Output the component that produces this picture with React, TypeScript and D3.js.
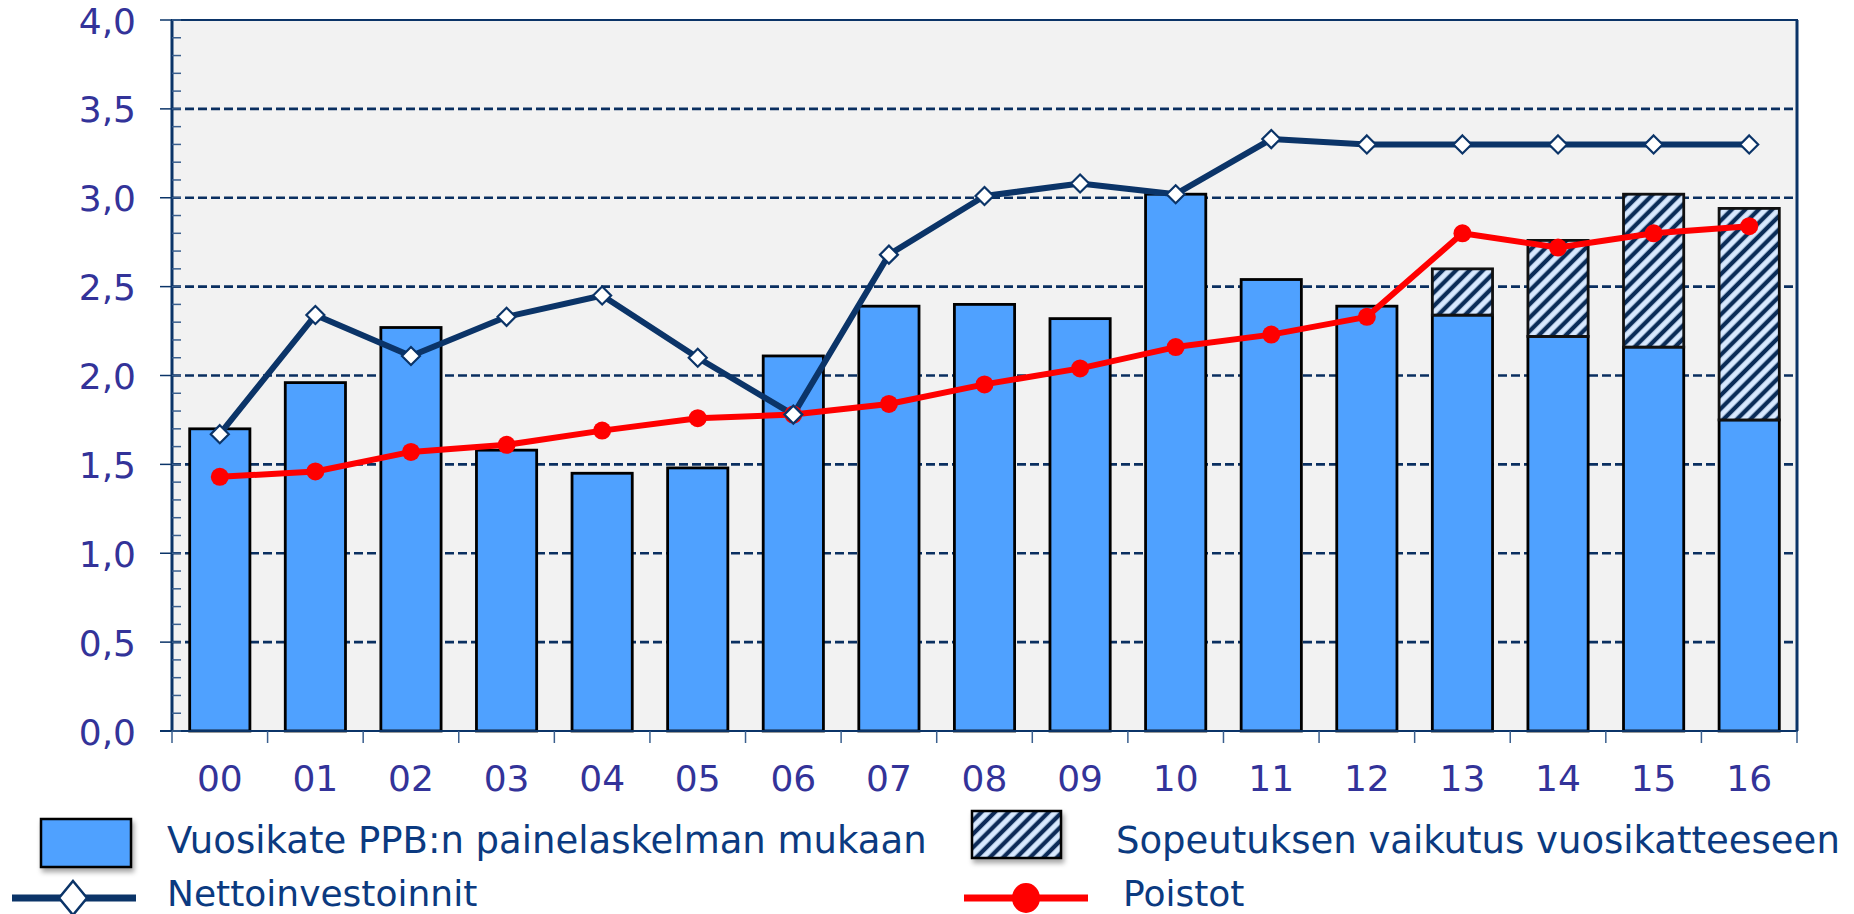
import React from "react";
import * as d3 from "d3";

// years on the x axis
const years = ["00", "01", "02", "03", "04", "05", "06", "07", "08", "09", "10", "11", "12", "13", "14", "15", "16"];
// Vuosikate PPB:n painelaskelman mukaan
const vuosikate = [1.7, 1.96, 2.27, 1.58, 1.45, 1.48, 2.11, 2.39, 2.4, 2.32, 3.02, 2.54, 2.39, 2.34, 2.22, 2.16, 1.75];
// Sopeutuksen vaikutus vuosikatteeseen (stacked on top)
const sopeutus = [0, 0, 0, 0, 0, 0, 0, 0, 0, 0, 0, 0, 0, 0.26, 0.54, 0.86, 1.19];
// Nettoinvestoinnit
const netto = [1.67, 2.34, 2.11, 2.33, 2.45, 2.1, 1.78, 2.68, 3.01, 3.08, 3.02, 3.33, 3.3, 3.3, 3.3, 3.3, 3.3];
// Poistot
const poistot = [1.43, 1.46, 1.57, 1.61, 1.69, 1.76, 1.78, 1.84, 1.95, 2.04, 2.16, 2.23, 2.33, 2.8, 2.72, 2.8, 2.84];
const yTicks = [0, 0.5, 1, 1.5, 2, 2.5, 3, 3.5, 4];
const legendLabels = [
  "Vuosikate PPB:n painelaskelman mukaan",
  "Sopeutuksen vaikutus vuosikatteeseen",
  "Nettoinvestoinnit",
  "Poistot",
];

const W = 1854;
const H = 914;
const left = 172;
const right = 1797;
const top = 20;
const bottom = 731;

const NAVY = "#0b3468";
const LABEL = "#333399";
const LEGEND = "#0b3a80";
const BAR = "#4fa1ff";
const FONT = "'DejaVu Sans', Verdana, sans-serif";

const App = () => {
  const x = d3.scaleBand<string>().domain(years).range([left, right]).paddingInner(0.37).paddingOuter(0.185);
  const y = d3.scaleLinear().domain([0, 4]).range([bottom, top]);
  const step = x.step();
  const cx = (i: number) => (x(years[i]) as number) + x.bandwidth() / 2;

  const line = d3
    .line<number>()
    .x((_, i) => cx(i))
    .y((d) => y(d));

  const minor = d3.range(0, 41).map((d) => d / 10);
  const diamond = (px: number, py: number, r: number, ry = r) =>
    `M${px},${py - ry}L${px + r},${py}L${px},${py + ry}L${px - r},${py}Z`;

  return (
    <div style={{ position: "absolute", left: 0, top: 0 }}>
      <svg width={W} height={H} xmlns="http://www.w3.org/2000/svg" style={{ display: "block", background: "#fff" }}>
        <defs>
          <pattern id="hatch" width={9.5} height={9.5} patternUnits="userSpaceOnUse" patternTransform="rotate(45)">
            <rect width={9.5} height={9.5} fill="#d8e9ff" />
            <line x1={4.7} y1={0} x2={4.7} y2={9.5} stroke="#0a2c58" strokeWidth={4.3} />
          </pattern>
          <filter id="shadow" x="-20%" y="-20%" width="150%" height="160%">
            <feDropShadow dx={2} dy={4} stdDeviation={2.5} floodColor="#000" floodOpacity={0.35} />
          </filter>
        </defs>

        {/* plot background */}
        <rect x={left} y={top} width={right - left} height={bottom - top} fill="#f2f2f2" />

        {/* gridlines */}
        {yTicks.slice(1, -1).map((t) => (
          <line key={t} x1={left} x2={right} y1={y(t)} y2={y(t)} stroke="#0a2f60" strokeWidth={2.6} strokeDasharray="9,4" />
        ))}

        {/* bars */}
        {years.map((yr, i) => (
          <g key={yr}>
            <rect
              x={x(yr)}
              y={y(vuosikate[i])}
              width={x.bandwidth()}
              height={y(0) - y(vuosikate[i])}
              fill={BAR}
              stroke="#000"
              strokeWidth={2.8}
            />
            {sopeutus[i] > 0 && (
              <rect
                x={x(yr)}
                y={y(vuosikate[i] + sopeutus[i])}
                width={x.bandwidth()}
                height={y(vuosikate[i]) - y(vuosikate[i] + sopeutus[i])}
                fill="url(#hatch)"
                stroke="#111"
                strokeWidth={2.8}
              />
            )}
          </g>
        ))}

        {/* plot frame */}
        <rect x={left} y={top} width={right - left} height={bottom - top} fill="none" stroke={NAVY} strokeWidth={2} />
        <line x1={left} x2={left} y1={top} y2={bottom} stroke={NAVY} strokeWidth={3} />
        <line x1={right} x2={right} y1={top} y2={bottom} stroke={NAVY} strokeWidth={3} />
        <line x1={left - 12} x2={right} y1={bottom} y2={bottom} stroke={NAVY} strokeWidth={2} />

        {/* y ticks */}
        {minor.map((t) => (
          <line key={t} x1={left} x2={left + 9} y1={y(t)} y2={y(t)} stroke="#3a5f8e" strokeWidth={1.5} />
        ))}
        {yTicks.map((t) => (
          <g key={t}>
            <line x1={left - 12} x2={left} y1={y(t)} y2={y(t)} stroke={NAVY} strokeWidth={1.5} />
            <text x={136} y={y(t) + 13.5} textAnchor="end" fontFamily={FONT} fontSize={36} fill={LABEL}>
              {t.toFixed(1).replace(".", ",")}
            </text>
          </g>
        ))}

        {/* x ticks and labels */}
        {d3.range(years.length + 1).map((i) => (
          <line key={i} x1={left + i * step} x2={left + i * step} y1={bottom} y2={bottom + 12} stroke="#3a5f8e" strokeWidth={1.5} />
        ))}
        {years.map((yr, i) => (
          <text key={yr} x={cx(i)} y={791} textAnchor="middle" fontFamily={FONT} fontSize={36} fill={LABEL}>
            {yr}
          </text>
        ))}

        {/* Nettoinvestoinnit line */}
        <path d={line(netto) as string} fill="none" stroke={NAVY} strokeWidth={6} strokeLinejoin="round" />

        {/* Poistot line */}
        <path d={line(poistot) as string} fill="none" stroke="#ff0000" strokeWidth={6} strokeLinejoin="round" />
        {poistot.map((d, i) => (
          <circle key={i} cx={cx(i)} cy={y(d)} r={9} fill="#ff0000" />
        ))}

        {/* diamond markers */}
        {netto.map((d, i) => (
          <path key={i} d={diamond(cx(i), y(d), 9)} fill="#fff" stroke={NAVY} strokeWidth={2.2} />
        ))}

        {/* legend */}
        <rect x={41} y={819} width={90} height={48} fill={BAR} stroke="#000" strokeWidth={2.5} filter="url(#shadow)" />
        <text x={167} y={853} fontFamily={FONT} fontSize={37} fill={LEGEND}>
          {legendLabels[0]}
        </text>
        <rect x={972} y={811} width={89} height={47} fill="url(#hatch)" stroke="#000" strokeWidth={2.5} filter="url(#shadow)" />
        <text x={1116} y={853} fontFamily={FONT} fontSize={37} fill={LEGEND}>
          {legendLabels[1]}
        </text>

        <line x1={12} x2={136} y1={898} y2={898} stroke={NAVY} strokeWidth={7} />
        <path d={diamond(73, 898, 14, 17)} fill="#fff" stroke={NAVY} strokeWidth={2.5} />
        <text x={167} y={906} fontFamily={FONT} fontSize={36} fill={LEGEND}>
          {legendLabels[2]}
        </text>

        <line x1={964} x2={1088} y1={898} y2={898} stroke="#ff0000" strokeWidth={7} />
        <ellipse cx={1026} cy={898} rx={14} ry={15} fill="#ff0000" />
        <text x={1123} y={906} fontFamily={FONT} fontSize={36} fill={LEGEND}>
          {legendLabels[3]}
        </text>
      </svg>
    </div>
  );
};

export default App;
